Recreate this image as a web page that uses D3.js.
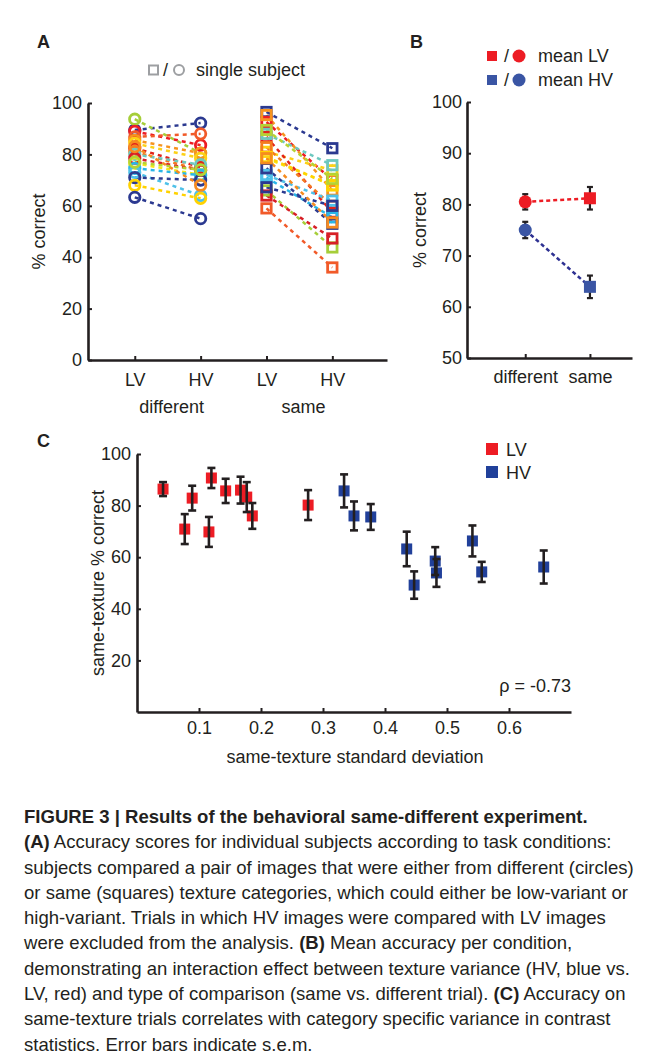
<!DOCTYPE html>
<html><head><meta charset="utf-8">
<script src="https://cdn.jsdelivr.net/npm/d3@7"></script>
<style>
body{margin:0;background:#fff}
svg{display:block}
text{font-family:"Liberation Sans",Arial,Helvetica,sans-serif;fill:#231f20}
</style>
</head><body>
<svg id="fig" width="654" height="1060"></svg>
<script>
// ---------- DATA ----------
// Panel A: single subjects
const catA = ["LV", "HV", "LV", "HV"];
const groupA = ["different", "same"];
const subjectColors = ["#2b3990","#a6ce39","#ed1c24","#f15a29","#f7941d","#fcd116","#e2231a","#f47b20","#6dc8bf","#d71f26","#f5e71a","#29b6e8","#4fc1e9","#2e3b8f","#ffd200","#2b3990","#f68b1f","#b5d334"];
const lvDiff = [89.5, 93.7, 89.0, 86.8, 85.5, 84.3, 82.4, 81.0, 80.0, 78.5, 76.6, 74.6, 73.0, 71.0, 68.0, 63.3, 83.0, 77.0];
const hvDiff = [92.2, 80.5, 83.6, 88.0, 80.5, 78.5, 75.0, 73.8, 76.0, 73.8, 72.0, 71.9, 64.0, 70.0, 62.9, 55.0, 68.0, 74.0];
const lvSame = [96.5, 66.0, 92.6, 59.0, 95.3, 81.0, 86.8, 82.8, 88.0, 64.0, 78.5, 71.0, 72.0, 74.6, 79.0, 67.2, 78.5, 89.5];
const hvSame = [82.4, 43.8, 70.0, 36.0, 66.0, 73.8, 57.4, 60.0, 75.8, 47.3, 68.0, 55.5, 62.0, 53.0, 68.0, 60.0, 53.5, 70.5];
const ticksA = [0, 20, 40, 60, 80, 100];

// Panel B: means
const catB = ["different", "same"];
const meanLV = [80.5, 81.2];
const semLV = [1.5, 2.2];
const meanHV = [75.0, 63.9];
const semHV = [1.6, 2.2];
const ticksB = [50, 60, 70, 80, 90, 100];

// Panel C: same-texture accuracy vs SD
const sdLV  = [0.042, 0.077, 0.089, 0.116, 0.120, 0.143, 0.167, 0.177, 0.186, 0.276];
const accLV = [86.4, 70.9, 82.9, 69.8, 90.7, 85.7, 86.0, 83.3, 76.0, 80.2];
const errLV = [2.7, 5.8, 4.8, 5.8, 3.9, 4.7, 5.2, 5.8, 5.0, 5.8];
const sdHV  = [0.334, 0.350, 0.377, 0.435, 0.447, 0.481, 0.483, 0.541, 0.556, 0.656];
const accHV = [85.7, 76.0, 75.6, 63.2, 49.2, 58.5, 53.9, 66.3, 54.3, 56.2];
const errHV = [6.4, 5.6, 5.0, 6.7, 5.3, 5.4, 5.4, 6.0, 3.9, 6.4];
const ticksCx = [0.1, 0.2, 0.3, 0.4, 0.5, 0.6];
const ticksCy = [20, 40, 60, 80, 100];

// Caption
const captionLines = [
  [["FIGURE 3 | Results of the behavioral same-different experiment.", true]],
  [["(A)", true], [" Accuracy scores for individual subjects according to task conditions:", false]],
  [["subjects compared a pair of images that were either from different (circles)", false]],
  [["or same (squares) texture categories, which could either be low-variant or", false]],
  [["high-variant. Trials in which HV images were compared with LV images", false]],
  [["were excluded from the analysis. ", false], ["(B)", true], [" Mean accuracy per condition,", false]],
  [["demonstrating an interaction effect between texture variance (HV, blue vs.", false]],
  [["LV, red) and type of comparison (same vs. different trial). ", false], ["(C)", true], [" Accuracy on", false]],
  [["same-texture trials correlates with category specific variance in contrast", false]],
  [["statistics. Error bars indicate s.e.m.", false]]
];

// ---------- DRAW ----------
const svg = d3.select("#fig");
svg.append("rect").attr("width", 654).attr("height", 1060).attr("fill", "#fff");
const INK = "#231f20";
const FS = 18;

function styleAxis(g) {
  g.attr("font-family", null).attr("font-size", null);
  g.select(".domain").attr("stroke", INK).attr("stroke-width", 2.6).attr("fill", "none");
  g.selectAll(".tick line").attr("stroke", INK).attr("stroke-width", 2);
  g.selectAll(".tick text").attr("font-size", FS).attr("fill", INK);
}

// ===== Panel A =====
const xA = d3.scaleLinear().domain([0.29, 4.83]).range([88, 387]);
const yA = d3.scaleLinear().domain([0, 100]).range([360, 103]);

svg.append("text").attr("x", 37).attr("y", 48).attr("font-size", 18).attr("font-weight", "bold").text("A");

const gAy = svg.append("g").attr("transform", `translate(${xA.range()[0]},0)`)
  .call(d3.axisLeft(yA).tickValues(ticksA).tickSize(-4).tickSizeOuter(0).tickPadding(6));
styleAxis(gAy);
const gAx = svg.append("g").attr("transform", `translate(0,${yA(0)})`)
  .call(d3.axisBottom(xA).tickValues([1, 2, 3, 4]).tickFormat((d, i) => catA[i]).tickSize(-4).tickSizeOuter(0).tickPadding(13));
styleAxis(gAx);

groupA.forEach((g, i) => {
  svg.append("text").attr("x", (xA(1 + 2 * i) + xA(2 + 2 * i)) / 2 + 4).attr("y", 413)
    .attr("text-anchor", "middle").attr("font-size", FS).text(g);
});

svg.append("text").attr("transform", `translate(45,${(yA(0) + yA(100)) / 2}) rotate(-90)`)
  .attr("text-anchor", "middle").attr("font-size", FS).text("% correct");

// legend A
svg.append("rect").attr("x", 149).attr("y", 65.5).attr("width", 9).attr("height", 9)
  .attr("fill", "none").attr("stroke", "#9d9fa2").attr("stroke-width", 2);
svg.append("text").attr("x", 163).attr("y", 76).attr("font-size", FS).text("/");
svg.append("circle").attr("cx", 179).attr("cy", 70).attr("r", 5)
  .attr("fill", "none").attr("stroke", "#9d9fa2").attr("stroke-width", 2);
svg.append("text").attr("x", 196).attr("y", 76).attr("font-size", FS).text("single subject");

const gLines = svg.append("g");
const gMarks = svg.append("g");
subjectColors.forEach((c, i) => {
  gLines.append("line").attr("x1", xA(1)).attr("y1", yA(lvDiff[i])).attr("x2", xA(2)).attr("y2", yA(hvDiff[i]))
    .attr("stroke", c).attr("stroke-width", 2.5).attr("stroke-dasharray", "4,4");
  gLines.append("line").attr("x1", xA(3)).attr("y1", yA(lvSame[i])).attr("x2", xA(4)).attr("y2", yA(hvSame[i]))
    .attr("stroke", c).attr("stroke-width", 2.5).attr("stroke-dasharray", "4,4");
});
subjectColors.forEach((c, i) => {
  [[1, lvDiff[i]], [2, hvDiff[i]]].forEach(([k, v]) => {
    gMarks.append("circle").attr("cx", xA(k)).attr("cy", yA(v)).attr("r", 5.2)
      .attr("fill", "none").attr("stroke", c).attr("stroke-width", 2.8);
  });
  [[3, lvSame[i]], [4, hvSame[i]]].forEach(([k, v]) => {
    gMarks.append("rect").attr("x", xA(k) - 4.7).attr("y", yA(v) - 4.7).attr("width", 9.4).attr("height", 9.4)
      .attr("fill", "none").attr("stroke", c).attr("stroke-width", 2.8);
  });
});

// ===== Panel B =====
const xB = d3.scaleLinear().domain([0.1, 2.65]).range([467, 632]);
const yB = d3.scaleLinear().domain([50, 100]).range([358, 102]);
const RED = "#ed1c24", BLUE = "#3a55a4", NAVY = "#2e3192";

svg.append("text").attr("x", 410).attr("y", 48).attr("font-size", 18).attr("font-weight", "bold").text("B");

const gBy = svg.append("g").attr("transform", `translate(${xB.range()[0]},0)`)
  .call(d3.axisLeft(yB).tickValues(ticksB).tickSize(-4).tickSizeOuter(0).tickPadding(5));
styleAxis(gBy);
const gBx = svg.append("g").attr("transform", `translate(0,${yB(50)})`)
  .call(d3.axisBottom(xB).tickValues([1, 2]).tickFormat((d, i) => catB[i]).tickSize(-4).tickSizeOuter(0).tickPadding(12));
styleAxis(gBx);

svg.append("text").attr("transform", `translate(426,${(yB(50) + yB(100)) / 2}) rotate(-90)`)
  .attr("text-anchor", "middle").attr("font-size", FS).text("% correct");

// legend B
[[RED, "mean LV", 56], [BLUE, "mean HV", 80]].forEach(([c, t, y]) => {
  svg.append("rect").attr("x", 487).attr("y", y - 5).attr("width", 10).attr("height", 10).attr("fill", c);
  svg.append("text").attr("x", 504).attr("y", y + 6).attr("font-size", FS).text("/");
  svg.append("circle").attr("cx", 519).attr("cy", y).attr("r", 6.5).attr("fill", c);
  svg.append("text").attr("x", 538).attr("y", y + 6).attr("font-size", FS).text(t);
});

function errBar(g, x, y, e, scale, cap, w) {
  g.append("line").attr("x1", x).attr("x2", x).attr("y1", scale(y - e)).attr("y2", scale(y + e))
    .attr("stroke", INK).attr("stroke-width", w);
  [y - e, y + e].forEach(v => g.append("line").attr("x1", x - cap).attr("x2", x + cap)
    .attr("y1", scale(v)).attr("y2", scale(v)).attr("stroke", INK).attr("stroke-width", w));
}

const gB = svg.append("g");
gB.append("line").attr("x1", xB(1)).attr("y1", yB(meanLV[0])).attr("x2", xB(2)).attr("y2", yB(meanLV[1]))
  .attr("stroke", RED).attr("stroke-width", 2.5).attr("stroke-dasharray", "4,3");
gB.append("line").attr("x1", xB(1)).attr("y1", yB(meanHV[0])).attr("x2", xB(2)).attr("y2", yB(meanHV[1]))
  .attr("stroke", NAVY).attr("stroke-width", 2.5).attr("stroke-dasharray", "4,3");
[0, 1].forEach(i => {
  errBar(gB, xB(i + 1), meanLV[i], semLV[i], yB, 3, 2.2);
  errBar(gB, xB(i + 1), meanHV[i], semHV[i], yB, 3, 2.2);
});
gB.append("circle").attr("cx", xB(1)).attr("cy", yB(meanLV[0])).attr("r", 6.5).attr("fill", RED);
gB.append("circle").attr("cx", xB(1)).attr("cy", yB(meanHV[0])).attr("r", 6.5).attr("fill", BLUE);
gB.append("rect").attr("x", xB(2) - 6).attr("y", yB(meanLV[1]) - 6).attr("width", 12).attr("height", 12).attr("fill", RED);
gB.append("rect").attr("x", xB(2) - 6).attr("y", yB(meanHV[1]) - 6).attr("width", 12).attr("height", 12).attr("fill", BLUE);

// ===== Panel C =====
const xC = d3.scaleLinear().domain([0, 0.7]).range([137, 571]);
const yC = d3.scaleLinear().domain([0, 100]).range([712, 454]);
const CRED = "#ed1c24", CBLUE = "#21409a";

svg.append("text").attr("x", 37).attr("y", 447).attr("font-size", 18).attr("font-weight", "bold").text("C");

const gCy = svg.append("g").attr("transform", `translate(${xC(0)},0)`)
  .call(d3.axisLeft(yC).tickValues(ticksCy).tickSize(-4).tickSizeOuter(0).tickPadding(6));
styleAxis(gCy);
const gCx = svg.append("g").attr("transform", `translate(0,${yC(0)})`)
  .call(d3.axisBottom(xC).tickValues(ticksCx).tickFormat(d3.format(".1f")).tickSize(-4).tickSizeOuter(0).tickPadding(9));
styleAxis(gCx);

svg.append("text").attr("x", 355).attr("y", 763).attr("text-anchor", "middle").attr("font-size", FS)
  .text("same-texture standard deviation");
svg.append("text").attr("transform", `translate(104,${(yC(0) + yC(100)) / 2}) rotate(-90)`)
  .attr("text-anchor", "middle").attr("font-size", FS).text("same-texture % correct");
svg.append("text").attr("x", 571).attr("y", 692).attr("text-anchor", "end").attr("font-size", FS).text("ρ = -0.73");

// legend C
[[CRED, "LV", 449], [CBLUE, "HV", 472]].forEach(([c, t, y]) => {
  svg.append("rect").attr("x", 486).attr("y", y - 6).attr("width", 12).attr("height", 12).attr("fill", c);
  svg.append("text").attr("x", 506).attr("y", y + 6.5).attr("font-size", FS).text(t);
});

const gC = svg.append("g");
function drawSeriesC(xs, ys, es, color) {
  xs.forEach((x, i) => {
    gC.append("rect").attr("x", xC(x) - 5.5).attr("y", yC(ys[i]) - 5.5).attr("width", 11).attr("height", 11)
      .attr("fill", color);
  });
  xs.forEach((x, i) => errBar(gC, xC(x), ys[i], es[i], yC, 4, 2.6));
}
drawSeriesC(sdLV, accLV, errLV, CRED);
drawSeriesC(sdHV, accHV, errHV, CBLUE);

// ===== Caption =====
const capFont = '"Liberation Sans Narrow","DejaVu Sans Condensed","Liberation Sans",sans-serif';
const capG = svg.append("g");
const capTexts = captionLines.map((parts, i) => {
  const t = capG.append("text").attr("x", 0).attr("y", 823 + i * 25.3)
    .attr("font-size", 18.5).attr("font-family", capFont);
  parts.forEach(([s, b]) => t.append("tspan").attr("font-weight", b ? "bold" : "normal").text(s));
  return t;
});
// one common horizontal scale so the widest body line spans the text column
const refLen = capTexts[2].node().getComputedTextLength();
const kx = 610 / refLen;
capG.attr("transform", `translate(24,0) scale(${kx},1)`);
</script>
</body></html>
